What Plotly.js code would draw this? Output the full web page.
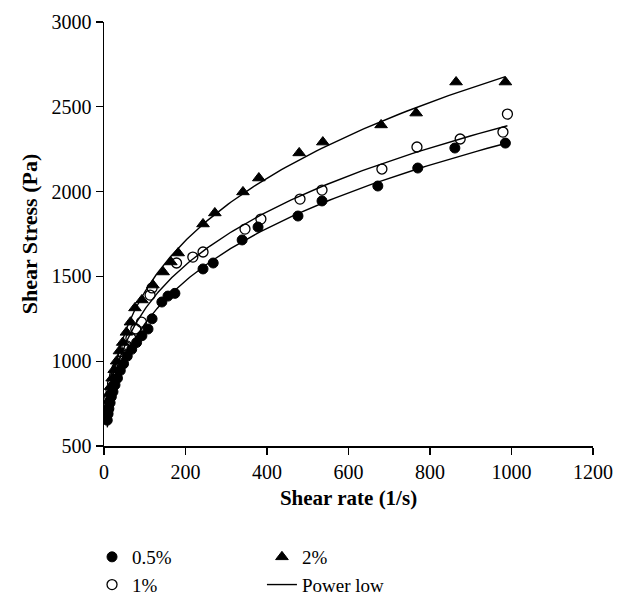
<!DOCTYPE html>
<html>
<head>
<meta charset="utf-8">
<script src="https://cdn.plot.ly/plotly-3.0.1.min.js"></script>
<style>body{margin:0;padding:0;background:#fff;}#chart{width:622px;height:603px;}</style>
</head>
<body>
<div id="chart"></div>
<script>
// Shear rate (1/s) and shear stress (Pa)
const rate05 = [8, 10, 12, 15, 18, 22, 27, 33, 40, 48, 57, 68, 80, 93, 108, 118, 142, 157, 174, 243, 268, 339, 378, 476, 535, 672, 770, 861, 985];
const stress05 = [652, 690, 720, 755, 790, 820, 860, 900, 945, 985, 1030, 1070, 1110, 1150, 1190, 1250, 1349, 1384, 1400, 1544, 1579, 1715, 1791, 1856, 1945, 2033, 2139, 2257, 2286];

const rate1 = [7, 9, 11, 14, 17, 21, 26, 32, 39, 47, 56, 66, 78, 92, 113, 118, 178, 218, 243, 346, 385, 481, 535, 682, 768, 874, 979, 990];
const stress1 = [680, 710, 745, 790, 830, 870, 915, 960, 1000, 1045, 1090, 1135, 1190, 1230, 1390, 1432, 1579, 1614, 1644, 1779, 1838, 1956, 2009, 2133, 2263, 2310, 2351, 2457];

const rate2 = [6, 8, 10, 13, 16, 20, 25, 31, 38, 46, 55, 65, 76, 93, 120, 145, 164, 182, 243, 272, 341, 380, 479, 537, 680, 766, 864, 985];
const stress2 = [700, 730, 765, 810, 850, 900, 950, 1000, 1060, 1110, 1170, 1230, 1314, 1361, 1449, 1526, 1585, 1638, 1809, 1874, 1998, 2080, 2228, 2292, 2393, 2463, 2646, 2646];

const seriesNames = ['0.5%', '1%', '2%'];
const fitName = 'Power low';

// Power-law fit y = K * x^n, least squares in linear space, computed from each data series
function powerFit(xs, ys) {
  let best = {err: Infinity, K: 0, n: 0};
  for (let n = 0.05; n <= 0.8; n += 0.0005) {
    let num = 0, den = 0;
    for (let i = 0; i < xs.length; i++) {
      const p = Math.pow(xs[i], n);
      num += ys[i] * p; den += p * p;
    }
    const K = num / den;
    let err = 0;
    for (let i = 0; i < xs.length; i++) {
      const r = ys[i] - K * Math.pow(xs[i], n);
      err += r * r;
    }
    if (err < best.err) best = {err, K, n};
  }
  const xmin = Math.min(...xs), xmax = Math.max(...xs);
  const fx = [], fy = [];
  for (let i = 0; i <= 200; i++) {
    const x = xmin * Math.pow(xmax / xmin, i / 200);
    fx.push(x); fy.push(best.K * Math.pow(x, best.n));
  }
  return {x: fx, y: fy};
}

const serif = 'Liberation Serif, Times New Roman, serif';
const f05 = powerFit(rate05, stress05);
const f1 = powerFit(rate1, stress1);
const f2 = powerFit(rate2, stress2);

const lineStyle = {color: '#000', width: 1.4};
const traces = [
  {x: f05.x, y: f05.y, mode: 'lines', line: lineStyle, name: fitName, legend: 'legend2', showlegend: true, legendrank: 2},
  {x: f1.x, y: f1.y, mode: 'lines', line: lineStyle, name: fitName, legend: 'legend2', showlegend: false},
  {x: f2.x, y: f2.y, mode: 'lines', line: lineStyle, name: fitName, legend: 'legend2', showlegend: false},
  {x: rate05, y: stress05, mode: 'markers', name: seriesNames[0], legend: 'legend', legendrank: 1,
   marker: {symbol: 'circle', size: 10, color: '#000', line: {color: '#000', width: 1}}},
  {x: rate1, y: stress1, mode: 'markers', name: seriesNames[1], legend: 'legend', legendrank: 2,
   marker: {symbol: 'circle-open', size: 10, color: '#000', line: {color: '#000', width: 1.3}}},
  {x: rate2, y: stress2, mode: 'markers', name: seriesNames[2], legend: 'legend2', legendrank: 1,
   marker: {symbol: 'triangle-up', size: 11, color: '#000', line: {color: '#000', width: 1}}}
];

const axisCommon = {
  showline: true, linecolor: '#000', linewidth: 1.5,
  ticks: 'outside', ticklen: 7, tickwidth: 1.3, tickcolor: '#000',
  showgrid: false, zeroline: false, automargin: false,
  tickfont: {family: serif, size: 20, color: '#000'}
};

const layout = {
  width: 622, height: 603,
  margin: {l: 104, r: 29, t: 22, b: 157, autoexpand: false},
  paper_bgcolor: '#fff', plot_bgcolor: '#fff',
  font: {family: serif, color: '#000'},
  xaxis: Object.assign({}, axisCommon, {
    range: [0, 1200], dtick: 200, tick0: 0,
    title: {text: '<b>Shear rate (1/s)</b>', font: {family: serif, size: 21, color: '#000'}, standoff: 9}
  }),
  yaxis: Object.assign({}, axisCommon, {
    range: [500, 3000], dtick: 500, tick0: 500,
    title: {text: '<b>Shear Stress (Pa)</b>', font: {family: serif, size: 22, color: '#000'}, standoff: 8}
  }),
  legend: {
    x: -0.0245, y: -0.217, xanchor: 'left', yanchor: 'top', orientation: 'v',
    font: {family: serif, size: 19, color: '#000'}, bgcolor: 'rgba(0,0,0,0)', tracegroupgap: 0
  },
  legend2: {
    x: 0.323, y: -0.217, xanchor: 'left', yanchor: 'top', orientation: 'v',
    font: {family: serif, size: 19, color: '#000'}, bgcolor: 'rgba(0,0,0,0)', tracegroupgap: 0
  },
  showlegend: true
};

Plotly.newPlot('chart', traces, layout, {displayModeBar: false, staticPlot: true});
</script>
</body>
</html>
